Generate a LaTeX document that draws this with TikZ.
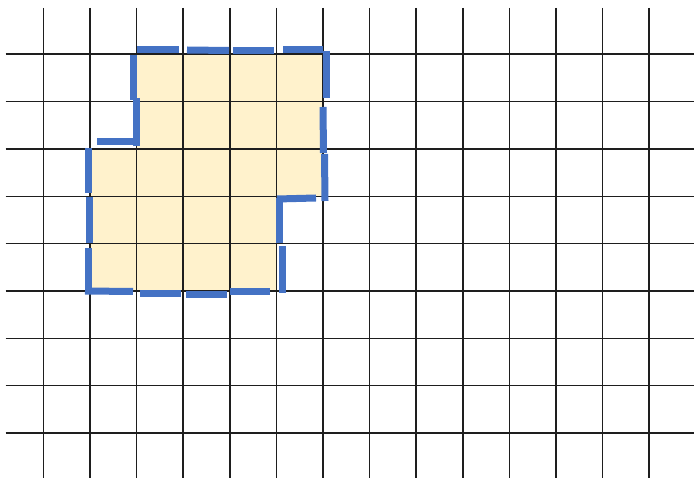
\documentclass[tikz,border=0pt]{standalone}
\definecolor{cream}{HTML}{FFF2CC}
\definecolor{edgeblue}{HTML}{4472C4}
\definecolor{gridc}{HTML}{1E1E1E}
\tikzset{
  gridline/.style={draw=gridc, line width=1.6pt},
  bdash/.style={draw=edgeblue, line width=7pt, line cap=butt},
}
\begin{document}
\begin{tikzpicture}[x=1pt,y=-1pt]
\useasboundingbox (0,0) rectangle (694,478);
% filled region
\fill[cream] (137,54.3) -- (323.3,54.3) -- (323.3,196.7) -- (277,196.7) -- (277,291.3)
  -- (90.7,291.3) -- (90.7,149) -- (137,149) -- cycle;
% grid
\foreach \i in {0,...,13} {
  \draw[gridline] ({43.3+46.6*\i},8) -- ({43.3+46.6*\i},478);
}
\foreach \j in {0,...,8} {
  \draw[gridline] (5.5,{54.3+47.34*\j}) -- (694,{54.3+47.34*\j});
}
% dashed border (hand-drawn dashes)
% top
\draw[bdash] (137,49.5) -- (179,49.5);
\draw[bdash] (187,50) -- (229,50.5);
\draw[bdash] (233,51) -- (274,51);
\draw[bdash] (283,49.5) -- (323,49.5);
% right
\draw[bdash] (326,51) -- (326,97.7);
\draw[bdash] (323,107) -- (323.5,153);
\draw[bdash] (324.5,154) -- (325,201);
% step at row 3
\draw[bdash] (277,199) -- (316,198);
% col 5
\draw[bdash] (279.5,198) -- (279.5,243);
\draw[bdash] (282.5,246) -- (282.5,293);
% bottom
\draw[bdash] (85,291) -- (133,291.5);
\draw[bdash] (140,294) -- (181,294);
\draw[bdash] (186,295) -- (227,295);
\draw[bdash] (230,292) -- (270,292);
% left
\draw[bdash] (88.5,148) -- (88.5,193);
\draw[bdash] (89,197) -- (89,243);
\draw[bdash] (88,248) -- (88,294.5);
% step at row 2
\draw[bdash] (97,142) -- (139,142);
% col 2
\draw[bdash] (136.5,98) -- (136.5,146);
\draw[bdash] (133,55) -- (133,100);
\end{tikzpicture}
\end{document}
